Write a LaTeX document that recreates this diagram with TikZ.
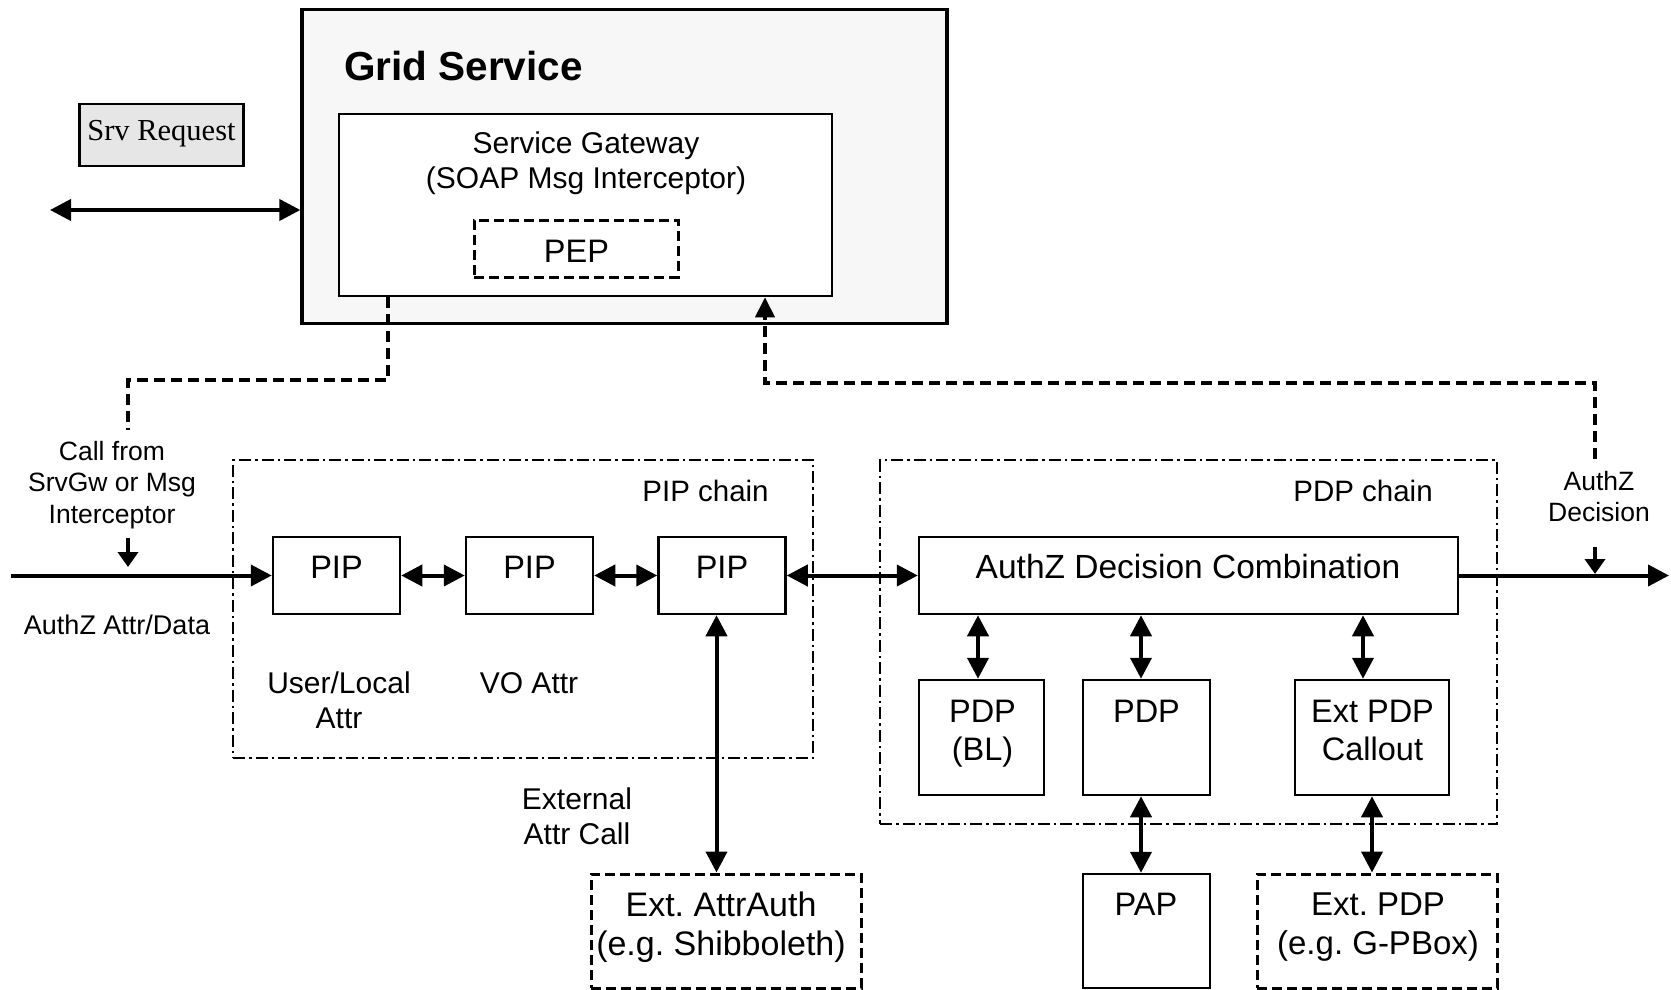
\documentclass[tikz,border=0pt]{standalone}
\usepackage{fontspec}
\setmainfont{Liberation Sans}
\newfontfamily\timesf{Liberation Serif}
\usetikzlibrary{arrows.meta}
\definecolor{gsfill}{HTML}{F7F7F7}
\definecolor{srvfill}{HTML}{E6E6E6}
\tikzset{
 box/.style={draw, line width=2.5pt, fill=white, inner sep=0pt},
 dbox/.style={draw, line width=3pt, dash pattern=on 10pt off 5pt, fill=white, inner sep=0pt},
 chainbox/.style={draw, line width=1.8pt, dash pattern=on 12pt off 4pt on 2.5pt off 4pt, inner sep=0pt},
 big/.style={font=\fontsize{32.5}{38}\selectfont, align=center, inner sep=0pt},
 mid/.style={font=\fontsize{30}{35}\selectfont, align=center, inner sep=0pt},
 small/.style={font=\fontsize{26.5}{31.5}\selectfont, align=center, inner sep=0pt},
 chainlbl/.style={font=\fontsize{29.5}{34}\selectfont, inner sep=0pt},
 conn/.style={line width=4pt, -{Triangle[length=21pt,width=21pt]}},
 dconn/.style={line width=4pt, {Triangle[length=21pt,width=21pt]}-{Triangle[length=21pt,width=21pt]}},
 sconn/.style={line width=4pt, -{Triangle[length=15pt,width=20pt]}},
 dashconn/.style={line width=4pt, dash pattern=on 11pt off 6pt},
}
\begin{document}
\frenchspacing
\begin{tikzpicture}[x=1pt,y=-1pt]
\useasboundingbox (0,0) rectangle (1671,990);
% Grid service
\node[draw, line width=3.3pt, fill=gsfill, minimum width=645pt, minimum height=314pt, inner sep=0pt] (gs) at (624.5,166.2) {};
\node[anchor=west, font=\bfseries\fontsize{40.5}{45}\selectfont, inner sep=0pt] (gst) at (344,66) {Grid Service};
\node[box, minimum width=493pt, minimum height=182pt] (sg) at (585.5,205) {};
\node[mid] (sgt) at (586,163) {Service Gateway\\(SOAP Msg Interceptor)};
\node[dbox, minimum width=204pt, minimum height=57pt] (pep) at (576,248.5) {};
\node[big] (pept) at (576.5,251.5) {PEP};
% Srv request
\node[draw, line width=2.5pt, fill=srvfill, minimum width=164pt, minimum height=62pt, inner sep=0pt] (srv) at (161.5,135) {};
\node[font=\timesf\fontsize{30.5}{34}\selectfont, inner sep=0pt] (srvt) at (161.5,134) {Srv Request};
\coordinate (srvL) at (50,210);
\draw[dconn] (srvL) -- (srvL -| gs.west);
% chains
\node[chainbox, minimum width=580pt, minimum height=298pt] (pipc) at (523,609) {};
\node[chainlbl] (pipct) at (705.5,491) {PIP chain};
\node[chainbox, minimum width=617pt, minimum height=364pt] (pdpc) at (1188.5,642) {};
\node[chainlbl] (pdpct) at (1363,491) {PDP chain};
% PIPs
\node[box, minimum width=127pt, minimum height=77pt] (pip1) at (336.5,575.5) {};
\node[box, minimum width=127pt, minimum height=77pt] (pip2) at (529.5,575.5) {};
\node[box, minimum width=127pt, minimum height=77pt] (pip3) at (722,575.5) {};
\node[big] (pip1t) at (336.5,567) {PIP};
\node[big] (pip2t) at (529.5,567) {PIP};
\node[big] (pip3t) at (722,567) {PIP};
\node[mid] (ul) at (339,700.5) {User/Local\\Attr};
\node[mid] (vo) at (529,683) {VO Attr};
\node[mid] (ext) at (577,816) {External\\Attr Call};
% PDPs
\node[box, minimum width=539pt, minimum height=77pt] (adc) at (1188.5,575.5) {};
\node[big, font=\fontsize{33.5}{38}\selectfont] (adct) at (1188,567) {AuthZ Decision Combination};
\node[box, minimum width=125pt, minimum height=115pt] (pdpbl) at (981.5,737.5) {};
\node[big] (pdpblt) at (982.5,734) {PDP\\(BL)};
\node[box, minimum width=127pt, minimum height=115pt] (pdp) at (1146.5,737.5) {};
\node[big] (pdpt) at (1146.5,711) {PDP};
\node[box, minimum width=154pt, minimum height=115pt] (extc) at (1372,737.5) {};
\node[big] (extct) at (1372.5,730) {Ext PDP\\Callout};
% external boxes
\node[box, minimum width=127pt, minimum height=114pt] (pap) at (1146.5,931) {};
\node[big] (papt) at (1146,904) {PAP};
\node[dbox, minimum width=240pt, minimum height=114pt] (extpdp) at (1377,931) {};
\node[big, font=\fontsize{33}{38.5}\selectfont] (extpdpt) at (1378,927) {Ext. PDP\\(e.g. G-PBox)};
\node[dbox, minimum width=270pt, minimum height=114pt] (extattr) at (726,931) {};
\node[big, font=\fontsize{34}{39}\selectfont] (extattrt) at (721,927) {Ext. AttrAuth\\(e.g. Shibboleth)};
% side labels
\node[small] (cf) at (112,485) {Call from\\SrvGw or Msg\\Interceptor};
\node[small, font=\fontsize{27}{32}\selectfont] (aad) at (117,624.5) {AuthZ Attr/Data};
\node[small] (azd) at (1599,496.5) {AuthZ\\Decision};
% main flow
\coordinate (inL) at (10.7,575.5);
\coordinate (outR) at (1669,575.5);
\draw[conn] (inL) -- (pip1.west);
\draw[dconn] (pip1) -- (pip2);
\draw[dconn] (pip2) -- (pip3);
\draw[dconn] (pip3) -- (adc);
\draw[conn] (adc.east) -- (outR);
% vertical connectors
\coordinate (xa) at (716.5,0);
\draw[dconn] (pip3.south -| xa) -- (extattr.north -| xa);
\coordinate (xb) at (978,0);
\coordinate (xc) at (1141,0);
\coordinate (xd) at (1363,0);
\coordinate (xe) at (1372,0);
\draw[dconn] (adc.south -| xb) -- (pdpbl.north -| xb);
\draw[dconn] (adc.south -| xc) -- (pdp.north -| xc);
\draw[dconn] (adc.south -| xd) -- (extc.north -| xd);
\draw[dconn] (pdp.south -| xc) -- (pap.north -| xc);
\draw[dconn] (extc.south -| xe) -- (extpdp.north -| xe);
% call-in
\coordinate (d1) at (388,380);
\coordinate (d2) at (128,380);
\coordinate (d3) at (128,430);
\draw[dashconn] (sg.south -| d1) -- (d1) -- (d2) -- (d3);
\coordinate (cfA) at (128,538);
\coordinate (cfB) at (128,567);
\draw[sconn] (cfA) -- (cfB);
% decision return
\coordinate (e1) at (1595,459);
\coordinate (e2) at (1595,383);
\coordinate (e3) at (765,383);
\draw[dashconn, -{Triangle[length=20pt,width=19pt]}] (e1) -- (e2) -- (e3) -- (sg.south -| e3);
\coordinate (azA) at (1595,547);
\coordinate (azB) at (1595,574);
\draw[sconn] (azA) -- (azB);
\end{tikzpicture}
\end{document}
